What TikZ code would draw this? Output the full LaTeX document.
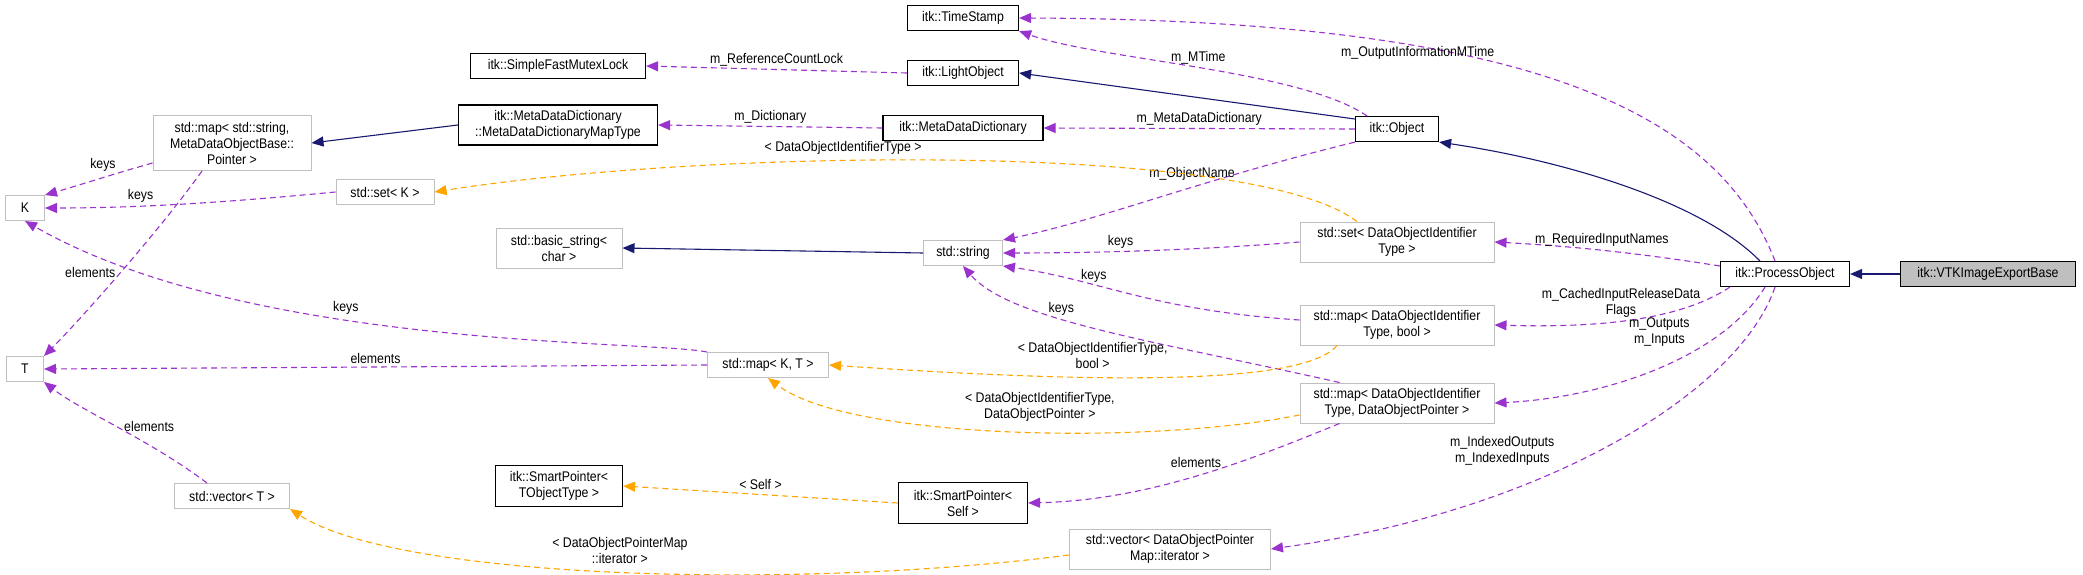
\documentclass[tikz,border=0pt]{standalone}
\usepackage{fontspec}
\setmainfont{Liberation Sans}[FakeStretch=0.88]
\usetikzlibrary{arrows.meta}
\definecolor{pu}{HTML}{9A32CD}
\definecolor{or}{HTML}{FFA500}
\definecolor{nv}{HTML}{191970}
\definecolor{gb}{HTML}{BFBFBF}
\begin{document}
\begin{tikzpicture}[x=1pt,y=-1pt,
  every node/.style={font=\fontsize{14}{16}\selectfont, align=center, inner sep=0pt, text=black},
  cls/.style={draw=black, line width=1.2pt, fill=white, minimum height=25pt, inner xsep=5pt},
  gcls/.style={draw=gb, line width=1pt, fill=white, minimum height=25pt, inner xsep=5pt},
  uses/.style={pu, dashed, line width=1.1pt, dash pattern=on 6pt off 4pt, -{Triangle[length=12pt,width=10pt]}},
  tmpl/.style={or, dashed, line width=1.1pt, dash pattern=on 6pt off 4pt, -{Triangle[length=12pt,width=10pt]}},
  inh/.style={nv, line width=1.1pt, -{Triangle[length=12pt,width=10pt]}}]
\useasboundingbox (0,0) rectangle (2083,575);
% nodes
\node[cls, minimum width=111pt] (ts) at (963,18) {itk::TimeStamp};
\node[cls, minimum width=175pt] (mutex) at (558,66) {itk::SimpleFastMutexLock};
\node[cls, minimum width=111pt] (light) at (963,73) {itk::LightObject};
\node[cls, minimum width=199pt, minimum height=40pt] (mddmt) at (558,125) {itk::MetaDataDictionary\\::MetaDataDictionaryMapType};
\node[gcls, minimum width=158pt, minimum height=55pt] (mapstr) at (232,143) {std::map< std::string,\\ MetaDataObjectBase::\\Pointer >};
\node[cls, minimum width=160pt] (mdd) at (963,128) {itk::MetaDataDictionary};
\node[gcls, minimum width=39pt] (K) at (25,208) {K};
\node[gcls, minimum width=98pt] (setK) at (385,192) {std::set< K >};
\node[gcls, minimum width=126pt, minimum height=40pt] (bstr) at (559,248) {std::basic\_string<\\ char >};
\node[gcls, minimum width=79pt] (str) at (963,253) {std::string};
\node[cls, minimum width=83pt] (obj) at (1397,129) {itk::Object};
\node[gcls, minimum width=194pt, minimum height=40pt] (setD) at (1397,242) {std::set< DataObjectIdentifier\\Type >};
\node[cls, minimum width=129pt] (po) at (1785,274) {itk::ProcessObject};
\node[draw=black, line width=1.2pt, fill=gb, minimum height=25pt, minimum width=175pt] (vtk) at (1988,274) {itk::VTKImageExportBase};
\node[gcls, minimum width=37pt] (T) at (25,369) {T};
\node[gcls, minimum width=121pt] (mapKT) at (768,365) {std::map< K, T >};
\node[gcls, minimum width=194pt, minimum height=40pt] (mapB) at (1397,325) {std::map< DataObjectIdentifier\\Type, bool >};
\node[gcls, minimum width=194pt, minimum height=40pt] (mapP) at (1397,403) {std::map< DataObjectIdentifier\\Type, DataObjectPointer >};
\node[gcls, minimum width=115pt] (vecT) at (232,496) {std::vector< T >};
\node[cls, minimum width=127pt, minimum height=41pt] (spT) at (559,486) {itk::SmartPointer<\\TObjectType >};
\node[cls, minimum width=129pt, minimum height=41pt] (spS) at (963,503) {itk::SmartPointer<\\Self >};
\node[gcls, minimum width=201pt, minimum height=40pt] (vecD) at (1170,549) {std::vector< DataObjectPointer\\Map::iterator >};
% inheritance
\draw[inh] (vtk.west) -- (po.east);
\draw[inh] (po.north west) ++(40,0) coordinate (c1) .. controls (1700,200) and (1560,160) .. (obj.south east);
\draw[inh] (obj.west) ++(0,-10) coordinate (c2) -- (light.east);
\draw[inh] (mddmt.west) -- (mapstr.east);
\draw[inh] (str.west) -- (bstr.east);
% uses
\draw[uses] (light.west) -- node[above=3pt]{m\_ReferenceCountLock} (mutex.east);
\draw[uses] (obj.north) ++(-30,0) coordinate (c3) .. controls (1300,70) and (1100,60) .. node[pos=0.5,above=2pt]{m\_MTime} (ts.south east);
\draw[uses] (po.north) ++(-10,0) coordinate (c4) .. controls (1720,120) and (1550,20) .. node[pos=0.6,above left=4pt]{m\_OutputInformationMTime} (ts.east);
\draw[uses] (obj.west) -- node[above=3pt]{m\_MetaDataDictionary} (mdd.east);
\draw[uses] (mdd.west) -- node[above=3pt]{m\_Dictionary} (mddmt.east);
\draw[uses] (mapstr.west) ++(0,20) coordinate (c6) .. controls (110,175) and (80,185) .. node[pos=0.3,above left=1pt]{keys} (K.north east);
\draw[uses] (setK.west) .. controls (200,205) and (120,208) .. node[pos=0.6,above=3pt]{keys} (K.east);
\draw[uses] (mapstr.south) ++(-30,0) coordinate (c7) .. controls (160,230) and (80,320) .. node[pos=0.5,left=5pt]{elements} (T.north east);
\draw[uses] (mapKT.north west) .. controls (650,340) and (250,350) .. node[pos=0.6,above=4pt]{keys} (K.south);
\draw[uses] (mapKT.west) -- node[above=3pt]{elements} (T.east);
\draw[uses] (vecT.north) ++(-25,0) coordinate (c8) .. controls (150,440) and (80,410) .. node[pos=0.5,right=6pt]{elements} (T.south east);
\draw[uses] (obj.south west) .. controls (1200,180) and (1100,220) .. node[pos=0.4,above=6pt]{m\_ObjectName} (str.north east);
\draw[uses] (setD.west) .. controls (1200,250) and (1100,253) .. node[pos=0.6,above=2pt]{keys} (str.east);
\draw[uses] (mapB.west) ++(0,-5) coordinate (c9) .. controls (1150,310) and (1100,280) .. node[pos=0.65,above=2pt]{keys} (str.south east);
\draw[uses] (mapP.north west) ++(40,0) coordinate (c10) .. controls (1150,340) and (1010,320) .. node[pos=0.6,above=2pt]{keys} (str.south);
\draw[uses] (po.west) ++(0,-8) coordinate (c11) .. controls (1620,250) and (1550,245) .. node[pos=0.45,above=3pt]{m\_RequiredInputNames} (setD.east);
\draw[uses] (po.south west) ++(10,0) coordinate (c12) .. controls (1680,320) and (1600,328) .. node[pos=0.55,above=3pt]{m\_CachedInputReleaseData\\Flags} (mapB.east);
\draw[uses] (po.south) ++(-20,0) coordinate (c13) .. controls (1720,360) and (1600,398) .. node[pos=0.35,above left=4pt]{m\_Outputs\\m\_Inputs} (mapP.east);
\draw[uses] (po.south) ++(-10,0) coordinate (c14) .. controls (1740,390) and (1550,510) .. node[pos=0.6,above left=4pt]{m\_IndexedOutputs\\m\_IndexedInputs} (vecD.east);
\draw[uses] (mapP.south west) ++(40,0) coordinate (c15) .. controls (1250,460) and (1150,500) .. node[pos=0.5,above=8pt]{elements} (spS.east);
% template
\draw[tmpl] (setD.north) ++(-40,0) coordinate (c16) .. controls (1250,140) and (700,150) .. node[pos=0.6,above=6pt]{< DataObjectIdentifierType >} (setK.east);
\draw[tmpl] (mapB.south) ++(-60,0) coordinate (c17) .. controls (1300,390) and (1050,380) .. node[pos=0.6,above=8pt]{< DataObjectIdentifierType,\\bool >} (mapKT.east);
\draw[tmpl] (mapP.west) ++(0,12) coordinate (c18) .. controls (1150,445) and (850,440) .. node[pos=0.45,above=10pt]{< DataObjectIdentifierType,\\DataObjectPointer >} (mapKT.south);
\draw[tmpl] (spS.west) -- node[above=4pt]{< Self >} (spT.east);
\draw[tmpl] (vecD.west) ++(0,6) coordinate (c19) .. controls (800,590) and (400,580) .. node[pos=0.5,above=8pt]{< DataObjectPointerMap\\::iterator >} (vecT.south east);
\end{tikzpicture}
\end{document}
